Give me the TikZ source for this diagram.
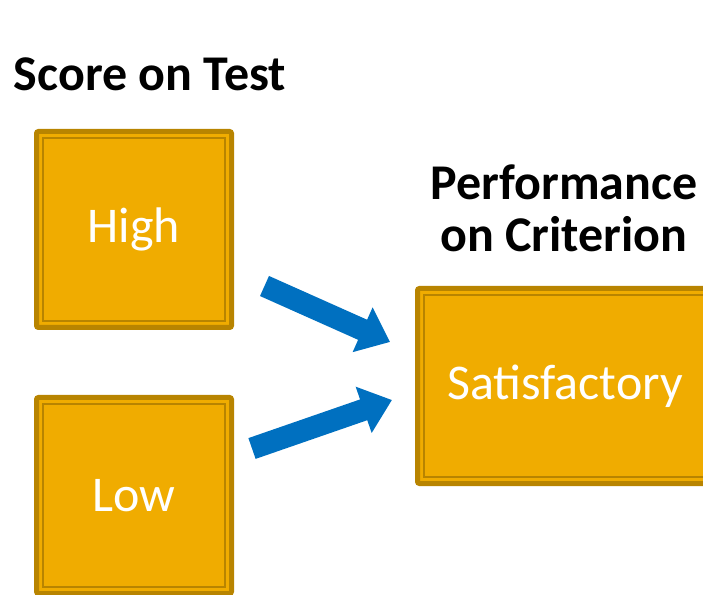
\documentclass[tikz,border=0pt]{standalone}
\usepackage{fontspec}
\setmainfont{Carlito}
\usetikzlibrary{positioning,arrows.meta}
\definecolor{boxgold}{HTML}{F0AC00}
\definecolor{boxedge}{HTML}{B88400}
\definecolor{arrowblue}{HTML}{0070C0}

\begin{document}
\begin{tikzpicture}[x=1pt,y=1pt,
  level box/.style={draw=boxedge,fill=boxgold,line width=5pt,rounded corners=2pt,
    minimum width=195pt,minimum height=196pt,text=white,font=\fontsize{50}{56}\selectfont,
    path picture={\draw[boxedge,line width=1.5pt,sharp corners]
      ([shift={(6.5pt,6.5pt)}]path picture bounding box.south west) rectangle
      ([shift={(-6.5pt,-6.5pt)}]path picture bounding box.north east);}},
  head/.style={font=\fontsize{50}{52}\selectfont\bfseries,align=center},
  big arrow/.style={draw=arrowblue,line width=22pt,-{Triangle[width=47pt,length=30pt]}}]

                \useasboundingbox (0,0) rectangle (703,594);

                \node[level box] (hi) at (134,364.5) {High};
                \node[level box] (lo) at (134,98.5) {Low};
                \node[level box,minimum width=295pt,minimum height=195pt] (sat) at (565,208) {Satisfactory};

                \node[head] (score) at (150,520) {Score on Test};
                \node[head] (perf) at (564,386) {Performance\\on Criterion};

                \coordinate (hi tail) at (264.5,308);
                \coordinate (hi tip) at (390,252);
                \coordinate (lo tail) at (252,145.5);
                \coordinate (lo tip) at (392,194);

                \draw[big arrow] (hi tail) -- (hi tip);
                \draw[big arrow] (lo tail) -- (lo tip);

            \end{tikzpicture}
\end{document}
